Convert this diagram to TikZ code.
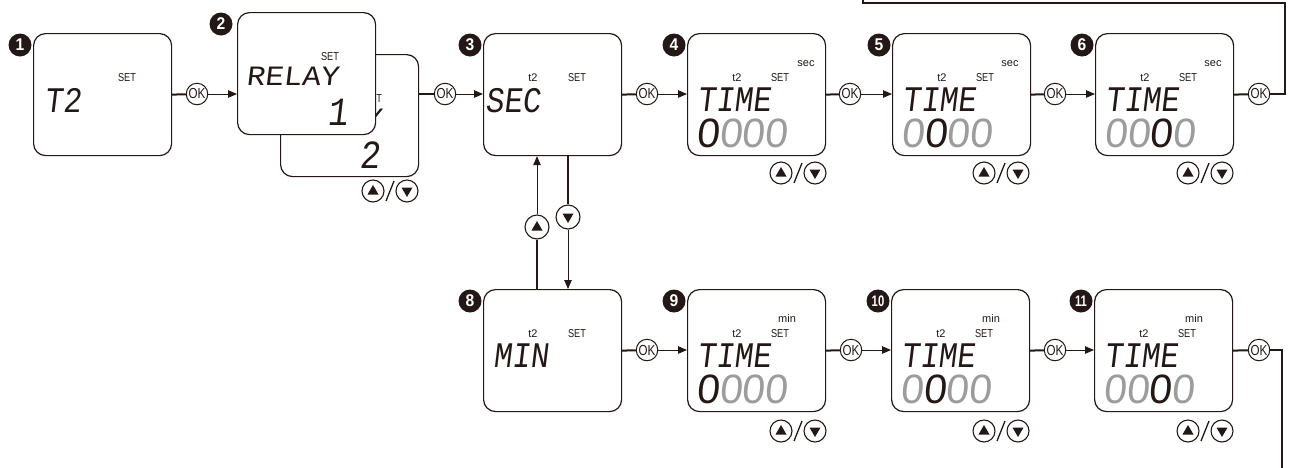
\documentclass[tikz,border=0pt]{standalone}
\usepackage{fontspec}
\setmainfont{Liberation Sans}
\newfontfamily\lblf[FakeStretch=0.8]{Liberation Sans}
\newfontfamily\lblw{Liberation Sans}
\newfontfamily\bdgf[FakeStretch=0.92]{Liberation Sans}
\newfontfamily\lcd[FakeSlant=0.12,FakeStretch=0.85]{Liberation Mono}
\newfontfamily\lcdw[FakeSlant=0.12,FakeStretch=1.1]{Liberation Mono}
\newfontfamily\lcdd[FakeSlant=0.1]{Liberation Sans}
\usetikzlibrary{arrows.meta}
\definecolor{ink}{HTML}{231815}
\definecolor{lcdg}{HTML}{9C9C9C}
\tikzset{
  screen/.style={draw=ink, fill=white, line width=1.2pt, rounded corners=12pt, minimum width=138pt, minimum height=122pt, anchor=north west, inner sep=0pt},
  badge/.style={circle, fill=ink, text=white, minimum size=23pt, inner sep=0pt, font=\bdgf\bfseries\fontsize{17}{17}\selectfont},
  okc/.style={circle, draw=ink, fill=white, line width=1pt, minimum size=21.5pt, inner sep=0pt, text=ink, font=\lblf\fontsize{14.5}{14.5}\selectfont},
  btn/.style={circle, draw=ink, fill=white, line width=1.1pt, minimum size=22pt, inner sep=0pt},
  lbl/.style={anchor=base, inner sep=0pt, text=ink, font=\lblf\fontsize{11.5}{11.5}\selectfont},
  lbll/.style={anchor=base, inner sep=0pt, text=ink, font=\lblw\fontsize{11}{11}\selectfont},
  lcdword/.style={anchor=base west, inner sep=0pt, text=ink, font=\lcd\fontsize{36}{36}\selectfont},
  lcdrelay/.style={anchor=base west, inner sep=0pt, text=ink, font=\lcdw\fontsize{28}{28}\selectfont},
  lcdone/.style={anchor=base, inner sep=0pt, text=ink, font=\lcd\fontsize{40}{40}\selectfont},
  lcddig/.style={anchor=base west, inner sep=0pt, text=lcdg, font=\lcdd\fontsize{41}{41}\selectfont},
  thk/.style={draw=ink, line width=2pt},
  thn/.style={draw=ink, line width=0.9pt, -{Triangle[length=9pt,width=7.5pt]}},
}
\newcommand\updown[3]{%
  \node[btn] (#1u) at (#2,#3) {};
  \node[btn] (#1d) at ({#2+34},#3) {};
  \fill[ink] ([shift={(-5.5,3.5)}]#1u.center) -- ([shift={(5.5,3.5)}]#1u.center) -- ([shift={(0,-6)}]#1u.center) -- cycle;
  \fill[ink] ([shift={(-5.5,-3.5)}]#1d.center) -- ([shift={(5.5,-3.5)}]#1d.center) -- ([shift={(0,6)}]#1d.center) -- cycle;
  \draw[ink, line width=1.3pt] ([shift={(13,10)}]#1u.center) -- ([shift={(21,-10)}]#1u.center);
}
\newcommand\timescr[5]{% name, x, y, unit label, digits text
  \node[screen] (#1) at (#2,#3) {};
  \node[lbll] (#1t2) at ([shift={(50,48.5)}]#1.north west) {t2};
  \node[lbl] (#1set) at ([shift={(93,48.5)}]#1.north west) {SET};
  \node[lcdword] (#1txt) at ([shift={(10,78)}]#1.north west) {TIME};
  \node[lcddig] (#1dig) at ([shift={(9,114)}]#1.north west) {#5};
  #4
}
\begin{document}
\begin{tikzpicture}[x=1pt,y=-1pt]
\useasboundingbox (0,0) rectangle (1290,467);
\clip (0,0) rectangle (1290,467);

% ---- screen 1
\node[screen] (s1) at (33,33) {};
\node[badge] (n1) at (20,45) {1};
\node[lbl] (s1set) at ([shift={(94,48.5)}]s1.north west) {SET};
\node[lcdword] (s1txt) at ([shift={(11,79)}]s1.north west) {T2};

% ---- screen 2 (back)
\node[screen] (s2b) at (280,54) {};
\node[lbl] (s2bset) at ([shift={(93,48.5)}]s2b.north west) {SET};
\node[lcdrelay] (s2btxt) at ([shift={(9,73)}]s2b.north west) {RELAY};
\node[lcdone] (s2bnum) at ([shift={(90,114)}]s2b.north west) {2};
% ---- screen 2 (front)
\node[screen] (s2f) at (237,12) {};
\node[badge] (n2) at (221,24) {2};
\node[lbl] (s2fset) at ([shift={(93,48.5)}]s2f.north west) {SET};
\node[lcdrelay] (s2ftxt) at ([shift={(9,73)}]s2f.north west) {RELAY};
\node[lcdone] (s2fnum) at ([shift={(101,113)}]s2f.north west) {1};
\updown{b2}{373}{191}

% ---- screen 3
\node[screen] (s3) at (483,33) {};
\node[badge] (n3) at (470,45) {3};
\node[lbll] (s3t2) at ([shift={(50,48.5)}]s3.north west) {t2};
\node[lbl] (s3set) at ([shift={(94,48.5)}]s3.north west) {SET};
\node[lcdword] (s3txt) at ([shift={(2,79)}]s3.north west) {SEC};

% ---- screens 4,5,6
\timescr{s4}{687}{33}{\node[lbll] (s4u) at ([shift={(119,33.5)}]s4.north west) {sec};}{\textcolor{ink}{0}000}
\node[badge] (n4) at (674,45) {4};
\updown{b4}{781}{173}
\timescr{s5}{892}{33}{\node[lbll] (s5u) at ([shift={(118,33.5)}]s5.north west) {sec};}{0\textcolor{ink}{0}00}
\node[badge] (n5) at (879,45) {5};
\updown{b5}{984}{173}
\timescr{s6}{1095}{33}{\node[lbll] (s6u) at ([shift={(118,33.5)}]s6.north west) {sec};}{00\textcolor{ink}{0}0}
\node[badge] (n6) at (1082,45) {6};
\updown{b6}{1188}{173}

% ---- screen 8
\node[screen] (s8) at (483,289) {};
\node[badge] (n8) at (470,301) {8};
\node[lbll] (s8t2) at ([shift={(50,48.5)}]s8.north west) {t2};
\node[lbl] (s8set) at ([shift={(94,48.5)}]s8.north west) {SET};
\node[lcdword] (s8txt) at ([shift={(10,78)}]s8.north west) {MIN};

% ---- screens 9,10,11
\timescr{s9}{687}{289}{\node[lbll] (s9u) at ([shift={(100,33.5)}]s9.north west) {min};}{\textcolor{ink}{0}000}
\node[badge] (n9) at (674,301) {9};
\updown{b9}{781}{431}
\timescr{s10}{891}{289}{\node[lbll] (s10u) at ([shift={(100,33.5)}]s10.north west) {min};}{0\textcolor{ink}{0}00}
\node[badge] (n10) at (878,301) {\scalebox{0.72}[0.9]{10}};
\updown{b10}{984}{431}
\timescr{s11}{1094}{289}{\node[lbll] (s11u) at ([shift={(100,33.5)}]s11.north west) {min};}{00\textcolor{ink}{0}0}
\node[badge] (n11) at (1081,301) {\scalebox{0.72}[0.9]{11}};
\updown{b11}{1188}{431}

% ---- OK buttons
\node[okc] (ok1) at (197,94) {OK};
\node[okc] (ok2) at (445,94) {OK};
\node[okc] (ok3) at (647,94) {OK};
\node[okc] (ok4) at (850,94) {OK};
\node[okc] (ok5) at (1055,94) {OK};
\node[okc] (ok6) at (1259,94) {OK};
\node[okc] (ok8) at (647,350) {OK};
\node[okc] (ok9) at (851,350) {OK};
\node[okc] (ok10) at (1055,350) {OK};
\node[okc] (ok11) at (1259,350) {OK};

% ---- connectors row 1
\draw[thk] (s1.east) -- (ok1);
\draw[thn] (ok1) -- (ok1 -| s2f.west);
\draw[thk] (ok2 -| s2b.east) -- (ok2);
\draw[thn] (ok2) -- (ok2 -| s3.west);
\draw[thk] (s3.east) -- (ok3);
\draw[thn] (ok3) -- (ok3 -| s4.west);
\draw[thk] (s4.east) -- (ok4);
\draw[thn] (ok4) -- (ok4 -| s5.west);
\draw[thk] (s5.east) -- (ok5);
\draw[thn] (ok5) -- (ok5 -| s6.west);
\draw[thk] (s6.east) -- (ok6);
% ---- connectors row 2
\draw[thk] (s8.east) -- (ok8);
\draw[thn] (ok8) -- (ok8 -| s9.west);
\draw[thk] (s9.east) -- (ok9);
\draw[thn] (ok9) -- (ok9 -| s10.west);
\draw[thk] (s10.east) -- (ok10);
\draw[thn] (ok10) -- (ok10 -| s11.west);
\draw[thk] (s11.east) -- (ok11);

% ---- loop lines
\coordinate (lpA) at (1285,3);
\coordinate (lpB) at (863,3);
\coordinate (lpC) at (863,-20);
\draw[thk] (ok6) -- (ok6 -| lpA) -- (lpA) -- (lpB) -- (lpC);
\coordinate (btA) at (1282,490);
\draw[thk] (ok11) -- (ok11 -| btA) -- (btA);

% ---- vertical up/down between 3 and 8
\node[btn, minimum size=24pt] (vu) at (537,227) {};
\node[btn, minimum size=24pt] (vd) at (568,217) {};
\fill[ink] ([shift={(-5.5,3.5)}]vu.center) -- ([shift={(5.5,3.5)}]vu.center) -- ([shift={(0,-6)}]vu.center) -- cycle;
\fill[ink] ([shift={(-5.5,-3.5)}]vd.center) -- ([shift={(5.5,-3.5)}]vd.center) -- ([shift={(0,6)}]vd.center) -- cycle;
\draw[thk] (vu |- s8.north) -- (vu);
\draw[thn] (vu) -- (vu |- s3.south);
\draw[thk] (vd |- s3.south) -- (vd);
\draw[thn] (vd) -- (vd |- s8.north);
\end{tikzpicture}
\end{document}
